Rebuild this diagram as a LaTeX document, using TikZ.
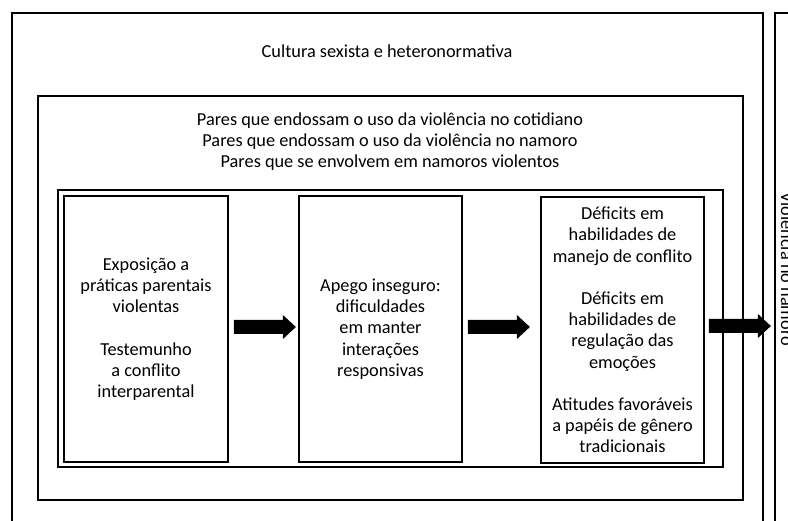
\documentclass[tikz,border=0pt]{standalone}
\usepackage{fontspec}
\setmainfont{Carlito}
\usetikzlibrary{calc}
\begin{document}
\begin{tikzpicture}[x=1pt,y=-1pt,
  frame/.style={draw=black,line width=1.8pt},
  boxnode/.style={frame,minimum width=#1,inner sep=0pt,align=center,
    font=\fontsize{18.3}{21.2}\selectfont},
  lbl/.style={inner sep=0pt,align=center,font=\fontsize{18.3}{21.2}\selectfont},
  arrowfill/.style={fill=black}]
\clip (0,0) rectangle (788,521);
\fill[white] (0,0) rectangle (788,521);
% frames
\draw[frame] (12,540) -- (12,13) -- (763,13) -- (763,540);
\draw[frame] (775,540) -- (775,13) -- (800,13);
\draw[frame] (38,96) rectangle (743,500);
\draw[frame] (58,190) rectangle (723,467);
% labels
\node[lbl,anchor=base] (cult) at (387,58) {Cultura sexista e heteronormativa};
\node[lbl,anchor=base] (pares) at (390,168) {Pares que endossam o uso da violência no cotidiano\\Pares que endossam o uso da violência no namoro\\Pares que se envolvem em namoros violentos};
\node[lbl,anchor=base,rotate=-90] (viol) at (781,269) {Violência no namoro};
% boxes
\node[boxnode=164pt,minimum height=266pt] (b1) at (146,329)
  {Exposição a\\práticas parentais\\violentas\\[21.2pt]Testemunho\\a conflito\\interparental};
\node[boxnode=163pt,minimum height=266pt] (b2) at (380.5,329)
  {Apego inseguro:\\dificuldades\\em manter\\interações\\responsivas};
\node[boxnode=163pt,minimum height=266pt] (b3) at (622.5,330)
  {Déficits em\\habilidades de\\manejo de conflito\\[21.2pt]Déficits em\\habilidades de\\regulação das\\emoções\\[21.2pt]Atitudes favoráveis\\a papéis de gênero\\tradicionais};
% block arrows
\fill[arrowfill] ($(b1.east)+(5,-9)$) -- ++(49,0) -- ++(0,-5) -- ++(13,12) -- ++(-13,12) -- ++(0,-5) -- ++(-49,0) -- cycle;
\fill[arrowfill] ($(b2.east)+(5,-9)$) -- ++(49,0) -- ++(0,-5) -- ++(13,12) -- ++(-13,12) -- ++(0,-5) -- ++(-49,0) -- cycle;
\fill[arrowfill] ($(b3.east)+(4,-11)$) -- ++(49,0) -- ++(0,-5) -- ++(13,12) -- ++(-13,12) -- ++(0,-5) -- ++(-49,0) -- cycle;
\end{tikzpicture}
\end{document}
